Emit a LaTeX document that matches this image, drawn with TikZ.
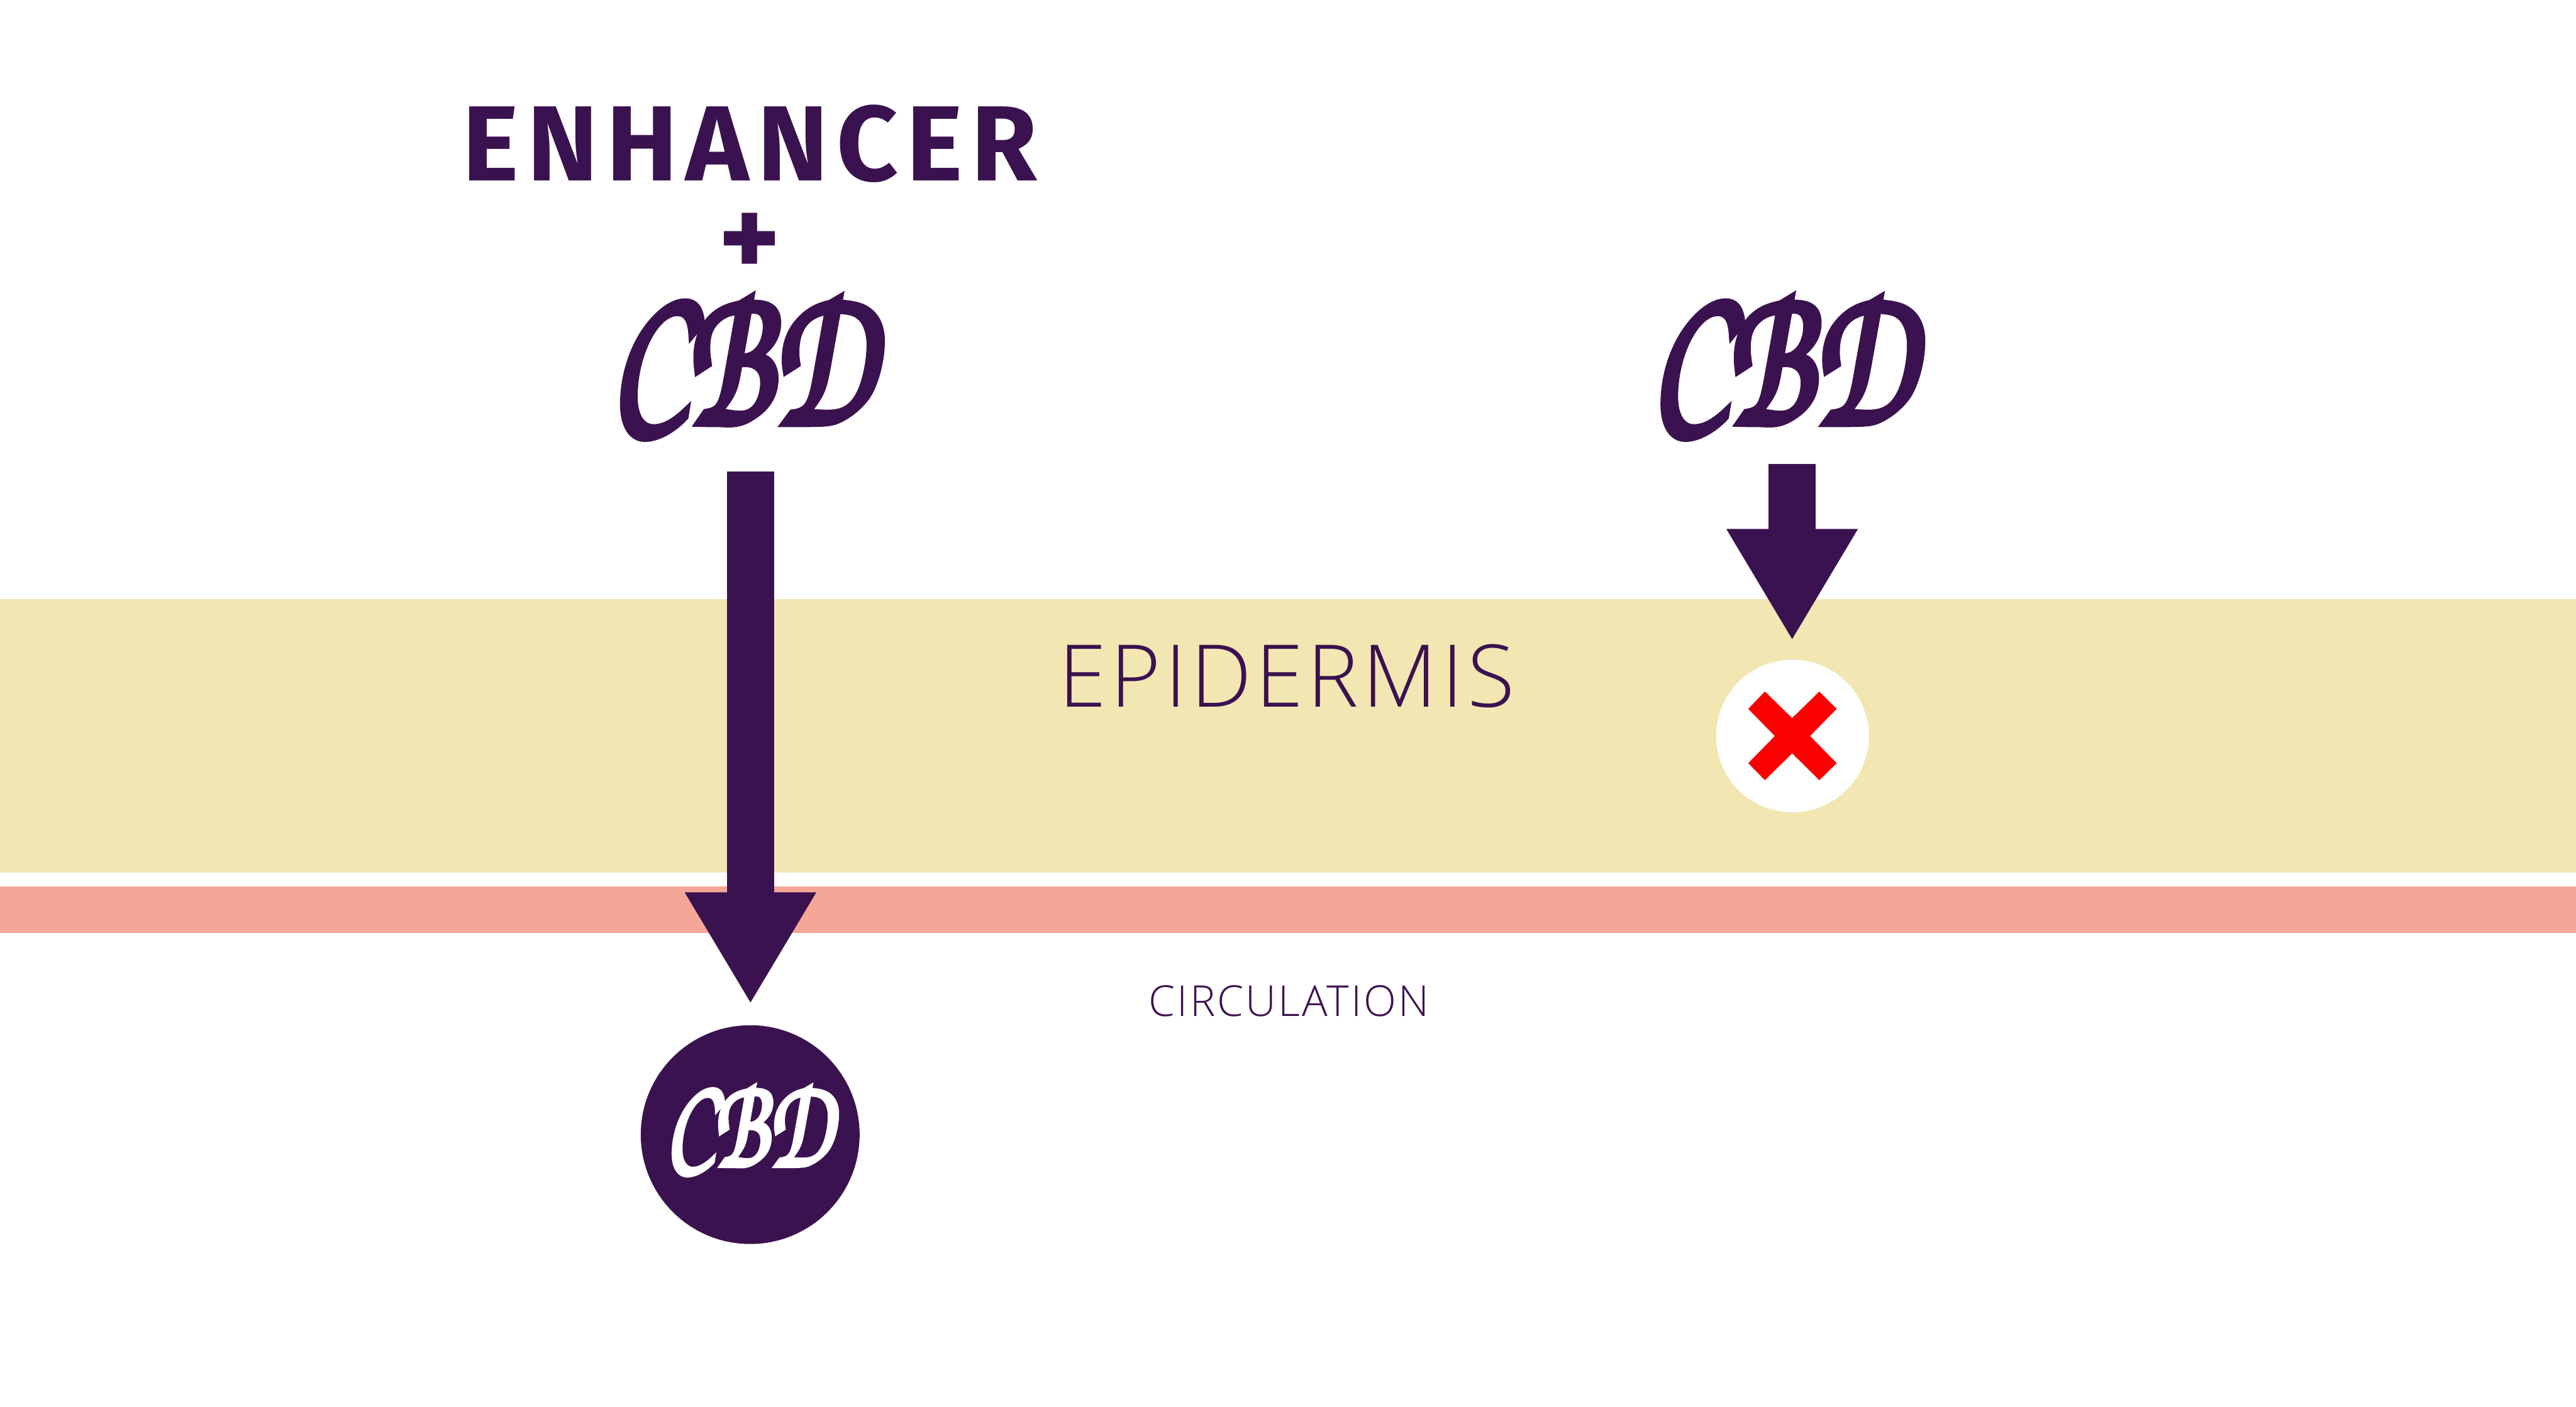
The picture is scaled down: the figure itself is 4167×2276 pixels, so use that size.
\documentclass[tikz,border=0pt]{standalone}
\usepackage{fontspec}
\usetikzlibrary{arrows.meta}
\newfontfamily\thinfont[LetterSpace=4.6]{Open Sans Light}
\newfontfamily\heavyfont[LetterSpace=7.8]{Fira Sans Bold}
\newcommand{\cbdtext}[1]{\special{pdf:code 2 Tr #1 w}\scalebox{.78}[1.1]{\usefont{T1}{pzc}{m}{it}CBD}\special{pdf:code 0 Tr 1 w}}
\definecolor{plum}{HTML}{3B1250}
\definecolor{skinyellow}{HTML}{F2E6B3}
\definecolor{bloodpink}{HTML}{F5A797}
\definecolor{crossred}{HTML}{FA0000}
\tikzset{
  flowarrow/.style={draw=plum, line width=76pt, -{Triangle[length=181pt,width=199pt,fill=plum]}},
  cbdlabel/.style={text=plum, inner sep=0pt, font=\fontsize{300}{300}\selectfont},
  plumtext/.style={text=plum, inner sep=0pt}
}
\begin{document}
\begin{tikzpicture}[x=1pt,y=-1pt]
\useasboundingbox (0,0) rectangle (4167,2276);
\fill[skinyellow] (0,970) rectangle (4167,1412);
\fill[bloodpink] (0,1434) rectangle (4167,1510);
% text
\node[plumtext, font=\heavyfont\fontsize{173}{173}\selectfont] (enhancer) at (1213,233) {ENHANCER};
\node[plumtext, font=\heavyfont\fontsize{190}{190}\selectfont] (plus) at (1213,397) {+};
\node[cbdlabel] (cbdleft) at (1200,578) {\cbdtext{12}};
\node[cbdlabel] (cbdright) at (2883,578) {\cbdtext{12}};
\node[plumtext, font=\thinfont\fontsize{140}{140}\selectfont] (epidermis) at (2081,1094) {EPIDERMIS};
\node[plumtext, font=\thinfont\fontsize{69}{69}\selectfont] (circulation) at (2085,1620) {CIRCULATION};
% arrows
\coordinate (leftstart) at (1214,763);
\coordinate (lefttip) at (1214,1625);
\coordinate (rightstart) at (2899,751);
\coordinate (righttip) at (2899,1037);
\draw[flowarrow] (leftstart) -- (lefttip);
\draw[flowarrow] (rightstart) -- (righttip);
% blocked
\node[circle, fill=white, minimum size=247pt, inner sep=0pt] (stopdisc) at (2899.5,1191) {};
\fill[crossred] (2828,1147) -- (2855,1119) -- (2899,1162) -- (2943,1119) -- (2971,1147) -- (2928,1191) -- (2971,1235) -- (2943,1262.5) -- (2899,1219) -- (2855,1262.5) -- (2828,1235) -- (2871,1191) -- cycle;
% absorbed
\node[circle, fill=plum, minimum size=354pt, inner sep=0pt] (cbddisc) at (1213.5,1836) {};
\node[inner sep=0pt, text=white, font=\fontsize{190}{190}\selectfont] (cbdbottom) at (1211,1819) {\cbdtext{7}};
\end{tikzpicture}
\end{document}
